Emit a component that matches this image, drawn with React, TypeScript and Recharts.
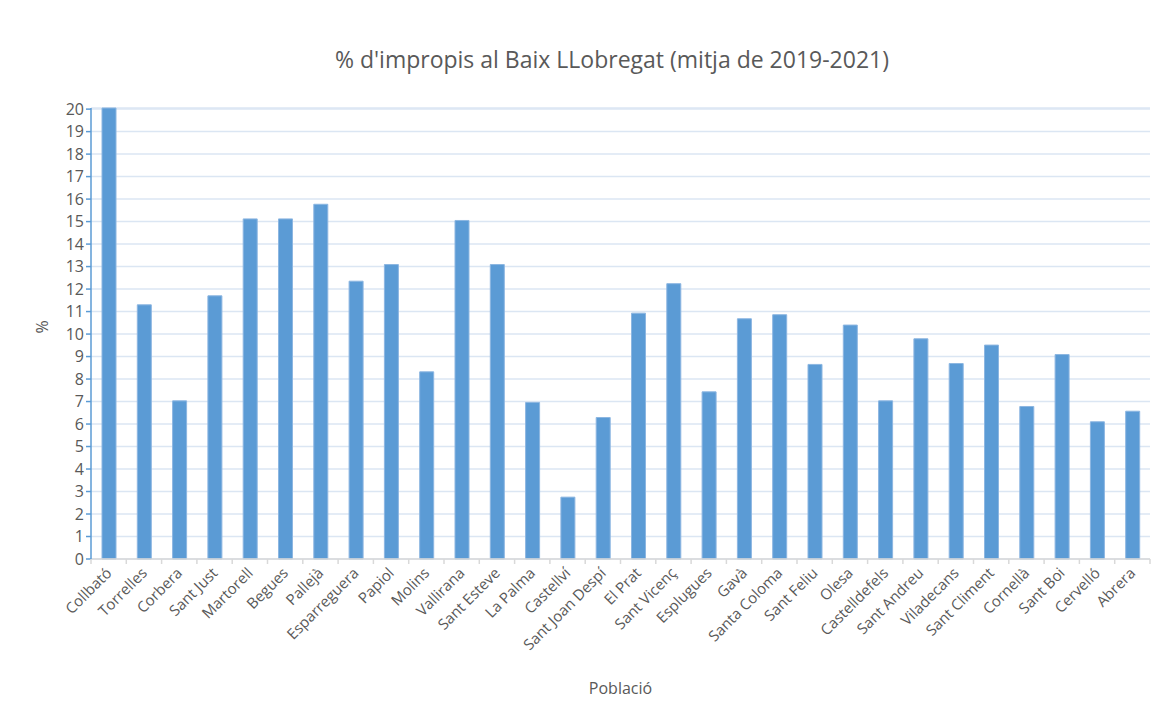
import React from 'react';
import { BarChart, Bar, XAxis, YAxis, CartesianGrid } from 'recharts';

const poblacions = [
  'Collbató', 'Torrelles', 'Corbera', 'Sant Just', 'Martorell', 'Begues', 'Pallejà',
  'Esparreguera', 'Papiol', 'Molins', 'Vallirana', 'Sant Esteve', 'La Palma', 'Castellví',
  'Sant Joan Despí', 'El Prat', 'Sant Vicenç', 'Esplugues', 'Gavà', 'Santa Coloma',
  'Sant Feliu', 'Olesa', 'Castelldefels', 'Sant Andreu', 'Viladecans', 'Sant Climent',
  'Cornellà', 'Sant Boi', 'Cervelló', 'Abrera',
];

const impropis = [
  20.05, 11.3, 7.03, 11.7, 15.12, 15.12, 15.77,
  12.35, 13.09, 8.32, 15.05, 13.09, 6.96, 2.75,
  6.29, 10.93, 12.24, 7.43, 10.68, 10.86,
  8.65, 10.4, 7.03, 9.79, 8.69, 9.51,
  6.78, 9.09, 6.1, 6.57,
];

const yTicks = [0, 1, 2, 3, 4, 5, 6, 7, 8, 9, 10, 11, 12, 13, 14, 15, 16, 17, 18, 19, 20];

const data = poblacions.map((name, i) => ({ name, value: impropis[i] }));

const FONT = 'Open Sans, sans-serif';
const GREY_TEXT = '#595959';

const CategoryTick = (props: any) => {
  const { x, y, payload, index, visibleTicksCount } = props;
  const half = payload.offset ?? 0;
  const axisY = y - 8;
  const tx = x + 4;
  const ty = y + 7;
  return (
    <g>
      <line x1={x - half} y1={axisY} x2={x - half} y2={axisY + 5} stroke="#d9d9d9" strokeWidth={1.5} />
      {index === visibleTicksCount - 1 && (
        <line x1={x + half} y1={axisY} x2={x + half} y2={axisY + 5} stroke="#d9d9d9" strokeWidth={1.5} />
      )}
      <text
        x={tx}
        y={ty}
        transform={`rotate(-45, ${tx}, ${ty})`}
        textAnchor="end"
        fill={GREY_TEXT}
        fontSize={15}
        fontFamily={FONT}
      >
        {payload.value}
      </text>
    </g>
  );
};

export default function App() {
  return (
    <div style={{ position: 'relative', margin: -8, width: 1169, height: 720, background: '#fff', overflow: 'hidden' }}>
      <div
        style={{
          position: 'absolute', left: 5, top: 4, width: 1180, height: 730,
          borderLeft: '2px solid #d9d9d9', borderTop: '2px solid #d9d9d9',
        }}
      />
      <div
        style={{
          position: 'absolute', left: 0, top: 43, width: 1224, textAlign: 'center',
          fontFamily: FONT, fontSize: 23, color: GREY_TEXT,
        }}
      >
        % d'impropis al Baix LLobregat (mitja de 2019-2021)
      </div>
      <div style={{ position: 'absolute', left: 0, top: 0 }}>
        <BarChart width={1169} height={720} data={data} margin={{ top: 108, right: 19, bottom: 21, left: 31 }}>
          <CartesianGrid vertical={false} stroke="#dbe6f3" strokeWidth={1.5} />
          <XAxis
            dataKey="name"
            interval={0}
            height={140}
            axisLine={{ stroke: '#d9d9d9', strokeWidth: 1.5 }}
            tickLine={false}
            tick={<CategoryTick />}
            label={{ value: 'Població', position: 'insideBottom', offset: 5, fill: GREY_TEXT, fontSize: 16, fontFamily: FONT }}
          />
          <YAxis
            width={60}
            domain={[0, 20]}
            ticks={yTicks}
            interval={0}
            axisLine={{ stroke: '#5b9bd5', strokeWidth: 1.5 }}
            tickLine={{ stroke: '#5b9bd5', strokeWidth: 1.5 }}
            tickSize={5}
            tick={{ fill: GREY_TEXT, fontSize: 16, fontFamily: FONT }}
            label={{ value: '%', angle: -90, position: 'insideLeft', dx: 6, fill: GREY_TEXT, fontSize: 16, fontFamily: FONT }}
          />
          <Bar dataKey="value" fill="#5b9bd5" stroke="#8cb6e1" strokeWidth={1} barSize={14} isAnimationActive={false} />
        </BarChart>
      </div>
    </div>
  );
}
